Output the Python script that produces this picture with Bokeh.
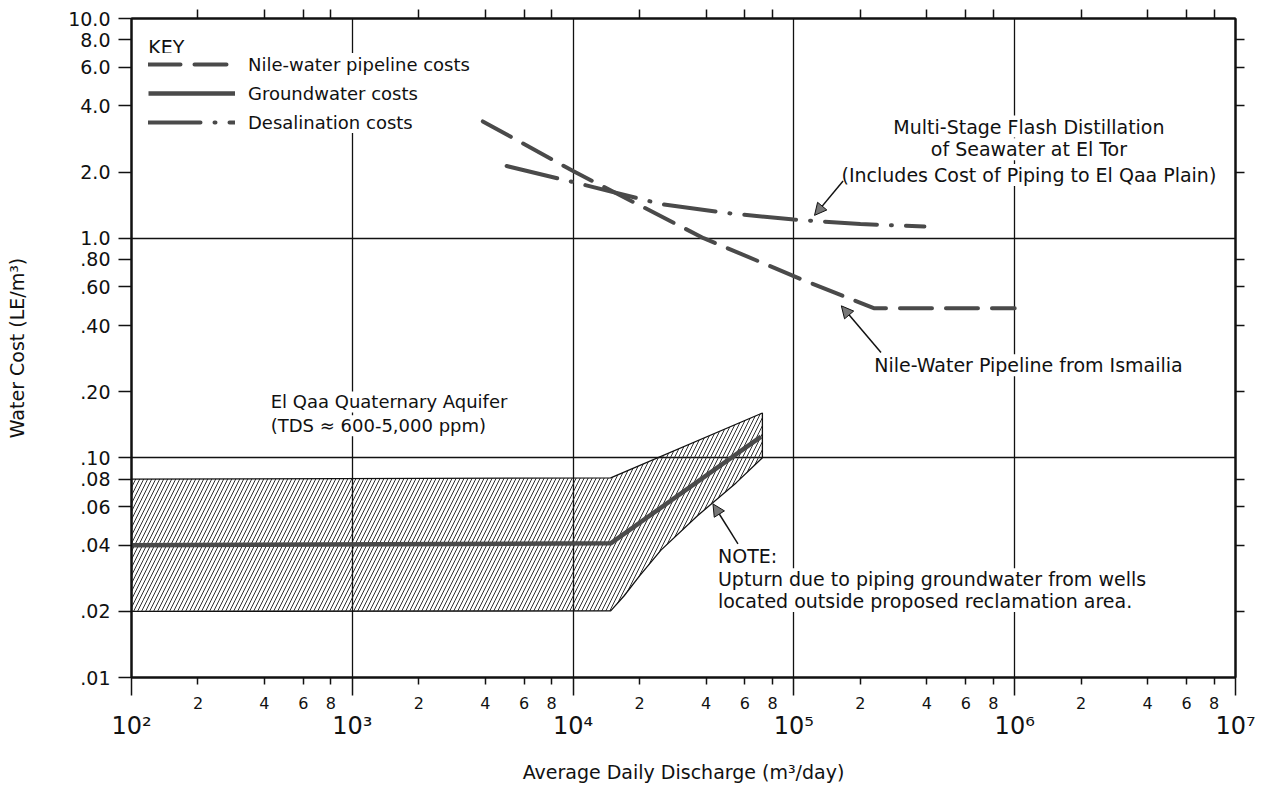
from bokeh.plotting import figure
from bokeh.models import (FixedTicker, LogAxis, Label, Legend, LegendItem, Arrow,
                          NormalHead, AllLabels)
from bokeh.embed import file_html
from bokeh.resources import INLINE

# ---- data -------------------------------------------------------------
# Nile-water pipeline from Ismailia (LE/m3 vs m3/day)
pipeline_q = [3.9e3, 1.0e4, 3.9e4, 1.08e5, 2.3e5, 1.0e6]
pipeline_cost = [3.4, 2.02, 1.0, 0.65, 0.48, 0.48]

# Multi-stage flash distillation of seawater at El Tor
desal_q = [5.0e3, 1.0e4, 2.5e4, 5.0e4, 1.0e5, 2.0e5, 3.9e5]
desal_cost = [2.13, 1.80, 1.43, 1.30, 1.215, 1.16, 1.13]

# Groundwater, El Qaa Quaternary Aquifer
ground_q = [1.0e2, 1.48e4, 7.1e4]
ground_cost = [0.040, 0.0408, 0.125]

# Range of groundwater costs (hatched band)
band_upper_q = [1.0e2, 1.48e4, 7.2e4]
band_upper_cost = [0.080, 0.081, 0.160]
band_lower_q = [1.0e2, 1.48e4, 1.7e4, 2.0e4, 2.5e4, 3.66e4, 5.47e4, 7.2e4]
band_lower_cost = [0.020, 0.0201, 0.0235, 0.0290, 0.0380, 0.0545, 0.0769, 0.100]

# ---- axis ticks -------------------------------------------------------
decades = [1e2, 1e3, 1e4, 1e5, 1e6, 1e7]
decade_labels = ["10²", "10³", "10⁴", "10⁵", "10⁶", "10⁷"]
minor_mult = [2, 4, 6, 8]
cost_ticks = [10, 8, 6, 4, 2, 1, 0.8, 0.6, 0.4, 0.2, 0.1, 0.08, 0.06, 0.04, 0.02, 0.01]
cost_labels = ["10.0", "8.0", "6.0", "4.0", "2.0", "1.0", ".80", ".60", ".40", ".20",
               ".10", ".08", ".06", ".04", ".02", ".01"]

FONT = "DejaVu Sans"
INK = "#111111"
CURVE = "#4a4a4a"

minor_q = [m * d for d in decades[:-1] for m in minor_mult]
minor_q_labels = [str(m) for d in decades[:-1] for m in minor_mult]
side_cost_ticks = [t for t, s in zip(cost_ticks, cost_labels) if not s.startswith(("1", ".1", ".01"))]

p = figure(width=1276, height=785, x_axis_type="log", y_axis_type="log",
           x_range=(1e2, 1e7), y_range=(0.01, 10),
           output_backend="svg", toolbar_location=None,
           min_border_left=131, min_border_right=41,
           min_border_top=18, min_border_bottom=101)
p.background_fill_color = "white"
p.border_fill_color = "white"
p.outline_line_color = INK
p.outline_line_width = 2

# decade grid only
p.xgrid.ticker = FixedTicker(ticks=decades[1:-1])
p.ygrid.ticker = FixedTicker(ticks=[1.0, 0.1])
for g in (p.xgrid, p.ygrid):
    g.grid_line_color = INK
    g.grid_line_width = 1.3

# bottom axis: 2,4,6,8 labels with long decade marks
ax = p.xaxis[0]
ax.ticker = FixedTicker(ticks=minor_q, minor_ticks=decades)
ax.major_label_overrides = dict(zip(minor_q, minor_q_labels))
ax.major_label_policy = AllLabels()
ax.major_tick_out = 7
ax.major_tick_in = 0
ax.minor_tick_out = 18
ax.minor_tick_in = 0
ax.major_label_standoff = 1
ax.major_label_text_font = FONT
ax.major_label_text_font_size = "16px"
ax.major_label_text_color = INK
ax.axis_line_color = INK
ax.axis_line_width = 2
ax.major_tick_line_color = INK
ax.major_tick_line_width = 1.5
ax.minor_tick_line_color = INK
ax.minor_tick_line_width = 1.5

# decade labels and title beneath
ax2 = LogAxis(ticker=FixedTicker(ticks=decades, minor_ticks=[]),
              major_label_overrides=dict(zip(decades, decade_labels)),
              major_label_policy=AllLabels(),
              major_tick_out=0, major_tick_in=0, minor_tick_out=0, minor_tick_in=0,
              axis_line_color=None, major_tick_line_color=None, minor_tick_line_color=None,
              major_label_standoff=0,
              major_label_text_font=FONT, major_label_text_font_size="24px",
              major_label_text_color=INK,
              axis_label="Average Daily Discharge (m³/day)",
              axis_label_standoff=18,
              axis_label_text_font=FONT, axis_label_text_font_size="19px",
              axis_label_text_font_style="normal", axis_label_text_color=INK)
p.add_layout(ax2, "below")

# left axis
ay = p.yaxis[0]
ay.ticker = FixedTicker(ticks=cost_ticks, minor_ticks=[])
ay.major_label_overrides = dict(zip(cost_ticks, cost_labels))
ay.major_label_policy = AllLabels()
ay.major_tick_out = 13
ay.major_tick_in = 0
ay.minor_tick_out = 0
ay.minor_tick_in = 0
ay.major_label_standoff = 8
ay.major_label_text_font = FONT
ay.major_label_text_font_size = "19px"
ay.major_label_text_color = INK
ay.axis_line_color = INK
ay.axis_line_width = 2
ay.major_tick_line_color = INK
ay.major_tick_line_width = 1.5
ay.axis_label = "Water Cost (LE/m³)"
ay.axis_label_standoff = 37
ay.axis_label_text_font = FONT
ay.axis_label_text_font_size = "19px"
ay.axis_label_text_font_style = "normal"
ay.axis_label_text_color = INK

# unlabeled tick rows on top and right
top = LogAxis(ticker=FixedTicker(ticks=minor_q, minor_ticks=[]),
              major_label_overrides={t: "" for t in minor_q},
              major_label_text_font_size="1px", major_label_standoff=0,
              major_tick_out=9, major_tick_in=0, minor_tick_out=0, minor_tick_in=0,
              axis_line_color=INK, axis_line_width=2,
              major_tick_line_color=INK, major_tick_line_width=1.5)
p.add_layout(top, "above")
right = LogAxis(ticker=FixedTicker(ticks=side_cost_ticks, minor_ticks=[]),
                major_label_overrides={t: "" for t in side_cost_ticks},
                major_label_text_font_size="1px", major_label_standoff=0,
                major_tick_out=9, major_tick_in=0, minor_tick_out=0, minor_tick_in=0,
                axis_line_color=INK, axis_line_width=2,
                major_tick_line_color=INK, major_tick_line_width=1.5)
p.add_layout(right, "right")

# ---- marks ------------------------------------------------------------
band_q = band_upper_q + band_lower_q[::-1]
band_cost = band_upper_cost + band_lower_cost[::-1]
p.patch(band_q, band_cost, fill_color=None, line_color=INK, line_width=1.3,
        hatch_pattern="/", hatch_color="#1a1a1a", hatch_scale=8, hatch_weight=0.9)

r_ground = p.line(ground_q, ground_cost, line_color=CURVE, line_width=4.5,
                  line_join="round")
r_pipe = p.line(pipeline_q, pipeline_cost, line_color=CURVE, line_width=4,
                line_dash="32 14", line_cap="round", line_join="round")
r_desal = p.line(desal_q, desal_cost, line_color=CURVE, line_width=4,
                 line_dash="52 14 1 14", line_cap="round", line_join="round")

legend = Legend(items=[LegendItem(label="Nile-water pipeline costs", renderers=[r_pipe]),
                       LegendItem(label="Groundwater costs", renderers=[r_ground]),
                       LegendItem(label="Desalination costs", renderers=[r_desal])],
                location=(17, 544), orientation="vertical",
                glyph_width=87, glyph_height=22, label_height=22, spacing=7,
                label_standoff=13, padding=2, margin=0,
                background_fill_color="white", background_fill_alpha=1.0,
                border_line_color=None,
                label_text_font=FONT, label_text_font_size="18px",
                label_text_color=INK)
p.add_layout(legend)


def note(x, y, text, align="left", size="19px"):
    p.add_layout(Label(x=x, y=y, text=text, text_align=align, text_baseline="middle",
                       text_font=FONT, text_font_size=size, text_color=INK,
                       background_fill_color="white", background_fill_alpha=1.0,
                       padding=0))


note(119, 7.4, "KEY", size="19px")
note(1.16e6, 3.22, "Multi-Stage Flash Distillation", align="center")
note(1.16e6, 2.54, "of Seawater at El Tor", align="center")
note(1.16e6, 1.94, "(Includes Cost of Piping to El Qaa Plain)", align="center")
note(2.31e5, 0.264, "Nile-Water Pipeline from Ismailia")
note(427, 0.1796, "El Qaa Quaternary Aquifer", size="18px")
note(427, 0.140, "(TDS ≈ 600-5,000 ppm)", size="18px")
note(4.53e4, 0.0356, "NOTE:")
note(4.53e4, 0.0280, "Upturn due to piping groundwater from wells")
note(4.53e4, 0.0223, "located outside proposed reclamation area.")


def pointer(x0, y0, x1, y1):
    p.add_layout(Arrow(end=NormalHead(size=12, fill_color="#777777", line_color=INK,
                                      line_width=1),
                       x_start=x0, y_start=y0, x_end=x1, y_end=y1,
                       line_color=INK, line_width=1.5))


pointer(1.67e5, 1.82, 1.24e5, 1.27)
pointer(2.48e5, 0.302, 1.64e5, 0.492)
pointer(5.58e4, 0.0406, 4.3e4, 0.0617)

open("out.html", "w").write(file_html(p, INLINE))
